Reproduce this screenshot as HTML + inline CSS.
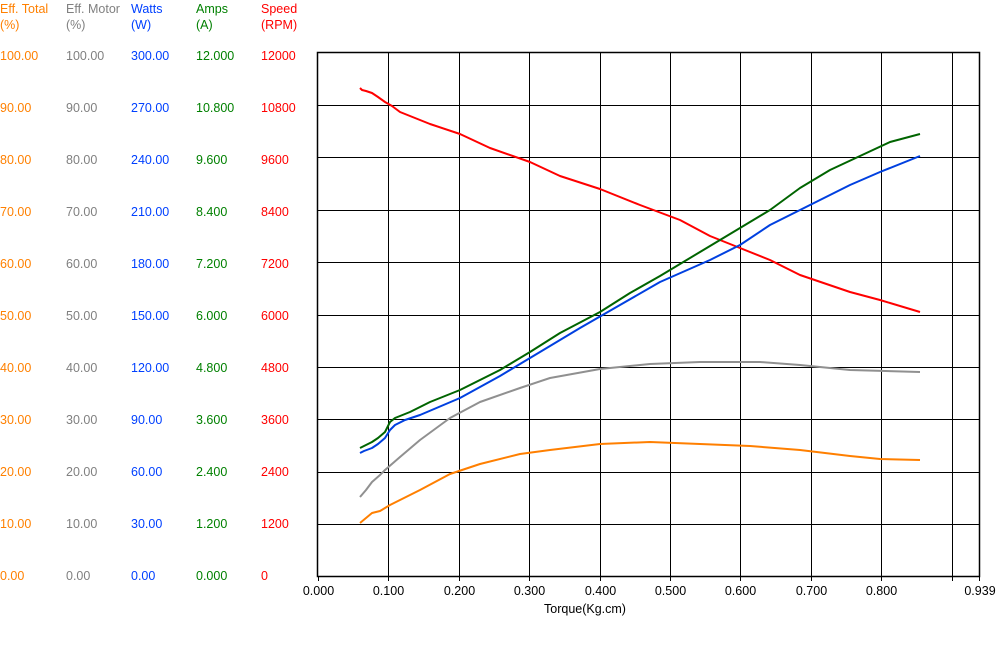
<!DOCTYPE html>
<html><head><meta charset="utf-8"><style>
body{margin:0;width:998px;height:668px;background:#fff;overflow:hidden;font-family:"Liberation Sans",sans-serif}
svg{position:absolute;left:0;top:0}
text{font-family:"Liberation Sans",sans-serif;font-size:12.5px}
</style></head><body>
<svg width="998" height="668" xmlns="http://www.w3.org/2000/svg">
<g>
<text x="0" y="13" fill="#ff8000">Eff. Total</text><text x="0" y="29" fill="#ff8000">(%)</text>
<text x="66" y="13" fill="#808080">Eff. Motor</text><text x="66" y="29" fill="#808080">(%)</text>
<text x="131" y="13" fill="#0040ff">Watts</text><text x="131" y="29" fill="#0040ff">(W)</text>
<text x="196" y="13" fill="#008000">Amps</text><text x="196" y="29" fill="#008000">(A)</text>
<text x="261" y="13" fill="#ff0000">Speed</text><text x="261" y="29" fill="#ff0000">(RPM)</text>
</g>
<g id="labels"></g>
<g stroke="#000" stroke-width="1" id="grid"></g>
<rect x="317.5" y="52.5" width="662" height="524" fill="none" stroke="#000" stroke-width="1.5"/>
<g fill="none" stroke-width="2" stroke-linejoin="round">
<polyline stroke="#ff0000" points="360,88 362,90 366,91 372,93 378,97 385,102 392,106 400,112 415,118 430,124 460,134 490,148 530,162 560,176 600,189 640,205 680,220 710,236 740,248 770,260 800,275 850,292 880,300 920,312"/>
<polyline stroke="#006400" points="360,448 364,446 372,442 378,438 385,432 390,422 395,418 410,412 430,402 460,390 500,370 530,352 560,333 600,312 630,293 660,276 700,252 740,228 770,210 800,188 830,170 860,156 890,142 905,138 920,134"/>
<polyline stroke="#0040e0" points="360,453 364,451 372,448 378,444 385,438 390,430 395,425 405,420 420,415 460,398 500,376 540,352 580,328 620,305 660,282 710,260 740,245 770,225 810,205 850,185 880,172 920,156"/>
<polyline stroke="#909090" points="360,497 366,490 372,482 380,475 385,470 400,457 420,440 450,418 480,402 520,388 550,378 600,369 650,364 700,362 760,362 800,365 850,370 920,372"/>
<polyline stroke="#ff7f00" points="360,523 366,518 372,513 380,511 390,505 420,490 450,474 480,464 520,454 550,450 600,444 650,442 700,444 750,446 800,450 850,456 880,459 920,460"/>
</g>
<text x="585" y="613" text-anchor="middle">Torque(Kg.cm)</text>
</svg>
<script>
var ns="http://www.w3.org/2000/svg";
var L=document.getElementById('labels'),G=document.getElementById('grid');
function t(x,y,str,c,anchor){var e=document.createElementNS(ns,'text');e.setAttribute('x',x);e.setAttribute('y',y);e.setAttribute('fill',c);if(anchor)e.setAttribute('text-anchor',anchor);e.textContent=str;L.appendChild(e);}
function l(x1,y1,x2,y2){var e=document.createElementNS(ns,'line');e.setAttribute('x1',x1);e.setAttribute('y1',y1);e.setAttribute('x2',x2);e.setAttribute('y2',y2);G.appendChild(e);}
for(var i=0;i<=10;i++){var v=10-i,y=52.5+i*52.4,ly=55+i*52+5;
t(0,ly,(v*10).toFixed(2),'#ff8000');t(66,ly,(v*10).toFixed(2),'#808080');
t(131,ly,(v*30).toFixed(2),'#0040ff');t(196,ly,(v*1.2).toFixed(3),'#008000');
t(261,ly,String(v*1200),'#ff0000');
if(i>0&&i<10)l(317.5,Math.round(y)+.5,979.5,Math.round(y)+.5);}
for(var k=0;k<=9;k++){var x=Math.round(318+k*70.4)+.5;if(k>0)l(x,52.5,x,576.5);l(x,576.5,x,581);
if(k<9)t(x,595,(k/10).toFixed(3),'#000','middle');}
l(979.5,576.5,979.5,581);t(980,595,'0.939','#000','middle');
</script>
</body></html>
